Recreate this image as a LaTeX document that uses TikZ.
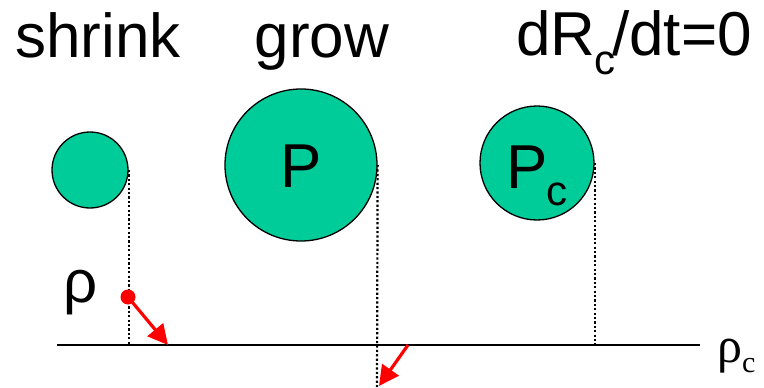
\documentclass[tikz,border=0pt]{standalone}
\usepackage{fontspec}
\setmainfont{Liberation Sans}
\newfontfamily\serifrho{Liberation Serif}
\usetikzlibrary{arrows.meta}
\definecolor{grain}{HTML}{00CC99}
\definecolor{arr}{HTML}{FF0000}
\newcommand\subc[2]{\kern-0.02em\raisebox{#2}{\fontsize{#1}{#1}\selectfont c}}
\tikzset{
  grainc/.style={circle,draw=black,line width=1.3pt,fill=grain,inner sep=0pt},
  dotline/.style={line width=2.2pt,dash pattern=on 2.2pt off 2.2pt},
  bigtxt/.style={font=\fontsize{62}{62}\selectfont,inner sep=0pt,anchor=base},
  redarr/.style={draw=arr,line width=3.2pt,-{Triangle[length=20pt,width=20pt]}},
}
\begin{document}
\begin{tikzpicture}[x=1pt,y=-1pt]
\useasboundingbox (0,0) rectangle (764,388);
% titles
\node[bigtxt] (t1) at (98,57) {shrink};
\node[bigtxt] (t2) at (322,57) {grow};
\node[bigtxt,anchor=base west] (t3) at (516,55) {dR\subc{42}{-19pt}\kern-0.05em/dt=0};
% grains
\node[grainc,minimum size=76pt] (c1) at (90,170) {};
\node[grainc,minimum size=152pt] (c2) at (301,165) {};
\node[grainc,minimum size=114pt] (c3) at (537,163) {};
\node[bigtxt] (p2) at (301,187) {P};
\node[bigtxt,anchor=base west] (p3) at (506,188) {P\subc{42}{-17pt}};
% axis
\coordinate (a0) at (57,345);
\coordinate (a1) at (700,345);
\draw[line width=1.6pt] (a0) -- (a1);
\node[inner sep=0pt,anchor=base west,font=\fontsize{50}{50}\selectfont\serifrho] (rc) at (717,362) {ρ\raisebox{-10pt}{\fontsize{30}{30}\selectfont c}};
% dotted drops
\coordinate (d1) at (c1.east |- a0);
\coordinate (d2) at (377,388);
\coordinate (d3) at (c3.east |- a0);
\draw[dotline] (c1.east) -- (d1);
\draw[dotline] (c2.east) -- (d2);
\draw[dotline] (c3.east) -- (d3);
% rho label
\node[inner sep=0pt,anchor=base west,font=\fontsize{60}{60}\selectfont] (rho) at (63,302) {ρ};
% red dot and arrows
\node[circle,fill=arr,minimum size=15pt,inner sep=0pt] (dot) at (128,297) {};
\coordinate (e1) at (168,345);
\draw[redarr] (dot.center) -- (e1);
\coordinate (s2) at (408,345);
\coordinate (e2) at (379,386);
\draw[redarr] (s2) -- (e2);
\end{tikzpicture}
\end{document}
